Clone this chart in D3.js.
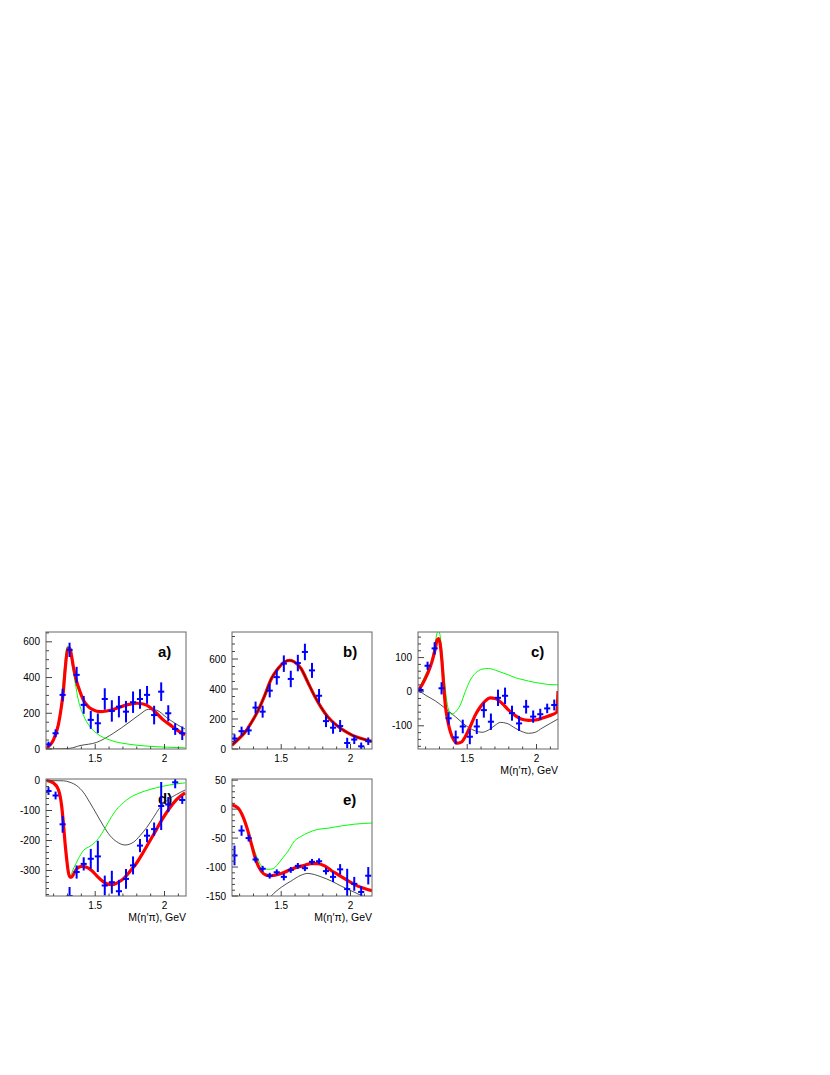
<!DOCTYPE html>
<html><head><meta charset="utf-8">
<script src="https://cdn.jsdelivr.net/npm/d3@7"></script>
<style>body{margin:0;background:#fff} svg{display:block} text{font-family:"Liberation Sans",Arial,Helvetica,sans-serif}</style>
</head><body><svg id="chart" width="830" height="1075"></svg>
<script>
// ---- data ----
const xBins = [1.163,1.214,1.265,1.315,1.366,1.417,1.468,1.519,1.569,1.620,1.671,1.722,1.773,1.823,1.874,1.925,1.976,2.027,2.077,2.128];
const xTicks = [1.5, 2];
const xTickLabels = ["1.5", "2"];
const xTitle = "M(\u03B7\u2032\u03C0), GeV";

const aVal = [26, 88, 303, 555, 415, 247, 163, 144, 280, 213, 237, 209, 262, 280, 303, 190, 321, 200, 112, 88];
const aErr = [15, 22, 35, 40, 45, 50, 50, 55, 60, 60, 60, 60, 60, 55, 50, 52, 52, 45, 33, 38];
const aRed = [[1.150,5],[1.162,13],[1.198,50],[1.234,135],[1.258,247],[1.270,322],[1.282,434],[1.294,527],[1.306,565],[1.318,561],[1.330,518],[1.342,462],[1.366,378],[1.390,322],[1.414,275],[1.450,237],[1.486,219],[1.535,209],[1.583,213],[1.655,228],[1.727,247],[1.799,256],[1.847,252],[1.895,234],[1.943,200],[1.991,163],[2.040,135],[2.088,107],[2.148,79]];
const aGreen = [[1.150,3],[1.198,45],[1.234,150],[1.258,280],[1.270,390],[1.282,490],[1.294,565],[1.302,576],[1.318,545],[1.330,490],[1.354,378],[1.378,275],[1.414,191],[1.462,125],[1.510,88],[1.607,50],[1.751,26],[1.895,15],[2.148,7]];
const aBlack = [[1.150,0],[1.250,1],[1.318,4],[1.390,19],[1.510,37],[1.631,88],[1.751,153],[1.823,194],[1.883,222],[1.943,217],[2.015,176],[2.088,138],[2.148,112]];
const aYTicks = [0, 200, 400, 600];

const bVal = [70, 119, 124, 276, 249, 389, 479, 569, 467, 573, 647, 524, 355, 186, 142, 153, 40, 63, 18, 52];
const bErr = [28, 30, 30, 40, 40, 45, 50, 55, 55, 55, 55, 50, 45, 40, 40, 40, 35, 30, 25, 25];
const bRed = [[1.145,25],[1.188,63],[1.236,108],[1.284,175],[1.332,254],[1.380,355],[1.428,467],[1.476,535],[1.524,580],[1.560,591],[1.596,580],[1.644,535],[1.692,445],[1.740,355],[1.789,276],[1.837,213],[1.885,169],[1.933,135],[1.981,108],[2.029,85],[2.077,70],[2.155,50]];
const bYTicks = [0, 200, 400, 600];

const cVal = [5, 76, 127, 10, -78, -134, -102, -132, -102, -54, -88, -18, -12, -63, -93, -44, -73, -66, -49, -39];
const cErr = [8, 12, 18, 18, 18, 20, 20, 22, 22, 22, 24, 24, 24, 22, 22, 20, 18, 16, 14, 16];
const cRed = [[1.145,3],[1.174,20],[1.210,49],[1.246,88],[1.270,127],[1.282,151],[1.294,156],[1.306,137],[1.318,88],[1.330,20],[1.342,-39],[1.361,-88],[1.378,-117],[1.402,-141],[1.426,-151],[1.457,-148],[1.486,-132],[1.522,-102],[1.559,-68],[1.595,-44],[1.631,-27],[1.667,-18],[1.703,-20],[1.751,-34],[1.799,-54],[1.847,-70],[1.895,-81],[1.943,-84],[1.991,-83],[2.039,-78],[2.087,-71],[2.147,-60],[2.155,2]];
const cGreen = [[1.145,3],[1.198,49],[1.246,98],[1.270,146],[1.282,171],[1.294,180],[1.313,137],[1.330,59],[1.347,-10],[1.366,-54],[1.385,-66],[1.414,-60],[1.450,-39],[1.486,0],[1.522,34],[1.559,54],[1.607,66],[1.655,68],[1.703,63],[1.751,56],[1.799,49],[1.847,41],[1.895,36],[1.943,31],[1.991,27],[2.039,24],[2.087,21],[2.155,20]];
const cBlack = [[1.145,5],[1.198,-10],[1.270,-27],[1.342,-49],[1.414,-73],[1.486,-98],[1.559,-115],[1.607,-119],[1.655,-112],[1.703,-98],[1.739,-90],[1.787,-93],[1.847,-107],[1.895,-117],[1.943,-122],[1.991,-119],[2.039,-107],[2.099,-93],[2.155,-80]];
const cYTicks = [-100, 0, 100];

const dVal = [-35, -50, -146, -385, -305, -278, -261, -253, -350, -339, -369, -328, -283, -217, -184, -162, -85, -80, -6, -65];
const dErr = [13, 13, 28, 30, 22, 22, 33, 52, 33, 38, 38, 33, 30, 22, 22, 22, 80, 25, 20, 13];
const dRed = [[1.150,0],[1.198,-8],[1.234,-30],[1.258,-85],[1.270,-140],[1.282,-206],[1.294,-261],[1.306,-305],[1.318,-322],[1.330,-322],[1.342,-314],[1.366,-295],[1.402,-286],[1.438,-289],[1.474,-300],[1.510,-317],[1.547,-333],[1.583,-344],[1.619,-347],[1.655,-342],[1.703,-328],[1.751,-303],[1.799,-275],[1.847,-239],[1.895,-201],[1.943,-162],[1.991,-124],[2.040,-90],[2.088,-63],[2.148,-41]];
const dGreen = [[1.150,0],[1.222,-13],[1.258,-85],[1.282,-206],[1.306,-305],[1.318,-318],[1.342,-295],[1.378,-261],[1.414,-234],[1.462,-219],[1.510,-201],[1.559,-168],[1.607,-129],[1.655,-96],[1.703,-74],[1.751,-57],[1.823,-41],[1.895,-30],[1.991,-19],[2.088,-11],[2.148,-8]];
const dBlack = [[1.150,0],[1.270,-1],[1.318,-6],[1.366,-17],[1.414,-39],[1.462,-74],[1.510,-112],[1.559,-151],[1.607,-184],[1.655,-204],[1.715,-215],[1.775,-206],[1.823,-184],[1.871,-157],[1.919,-124],[1.967,-90],[2.015,-68],[2.088,-46],[2.148,-32]];
const dYTicks = [-300, -200, -100, 0];

const eVal = [-80, -37, -50, -87, -103, -115, -109, -117, -105, -98, -102, -91, -90, -107, -117, -104, -138, -129, -143, -115];
const eErr = [17, 9, 6, 5, 5, 5, 5, 6, 5, 5, 5, 5, 5, 6, 9, 9, 35, 12, 10, 15];
const eRed = [[1.145,7],[1.188,2],[1.224,-13],[1.260,-38],[1.289,-64],[1.320,-90],[1.356,-107],[1.392,-114],[1.428,-115],[1.476,-113],[1.524,-109],[1.572,-104],[1.620,-100],[1.668,-97],[1.716,-94],[1.764,-94],[1.813,-98],[1.861,-106],[1.909,-113],[1.957,-120],[2.005,-127],[2.053,-133],[2.101,-137],[2.155,-141]];
const eGreen = [[1.145,7],[1.224,-11],[1.260,-35],[1.296,-64],[1.332,-87],[1.368,-101],[1.404,-104],[1.440,-103],[1.476,-95],[1.512,-84],[1.548,-73],[1.596,-55],[1.644,-47],[1.692,-41],[1.764,-35],[1.837,-33],[1.933,-29],[2.029,-26],[2.155,-24]];
const eBlack = [[1.356,-173],[1.428,-150],[1.500,-135],[1.572,-124],[1.644,-114],[1.692,-111],[1.740,-113],[1.789,-117],[1.861,-124],[1.933,-133],[2.005,-141],[2.077,-149],[2.155,-157]];
const eYTicks = [-150, -100, -50, 0, 50];

// ---- layout ----
const xDomain = [1.145, 2.155];
const panels = [
  {key:"a", label:"a)", val:aVal, err:aErr, red:aRed, green:aGreen, black:aBlack, yDom:[0,655], yTicks:aYTicks, yMinor:50, box:[46,632,186,749], lab:[158,657], title:false},
  {key:"b", label:"b)", val:bVal, err:bErr, red:bRed, green:null, black:null, yDom:[0,780], yTicks:bYTicks, yMinor:50, box:[232,632,372,749], lab:[343,657], title:false, blackOnRed:true},
  {key:"c", label:"c)", val:cVal, err:cErr, red:cRed, green:cGreen, black:cBlack, yDom:[-168,175], yTicks:cYTicks, yMinor:20, box:[418,632,558,749], lab:[531,657], title:true},
  {key:"d", label:"d)", val:dVal, err:dErr, red:dRed, green:dGreen, black:dBlack, yDom:[-385,5], yTicks:dYTicks, yMinor:20, box:[46,779,186,896], lab:[158,804], title:true},
  {key:"e", label:"e)", val:eVal, err:eErr, red:eRed, green:eGreen, black:eBlack, yDom:[-150,52], yTicks:eYTicks, yMinor:10, box:[232,779,372,896], lab:[343,805], title:true}
];

const svg = d3.select("#chart");
svg.append("rect").attr("width",830).attr("height",1075).attr("fill","#fff");

panels.forEach(p => {
  const [x0,y0,x1,y1] = p.box;
  const x = d3.scaleLinear().domain(xDomain).range([x0,x1]);
  const y = d3.scaleLinear().domain(p.yDom).range([y1,y0]);
  const g = svg.append("g");
  const clipId = "clip-" + p.key;
  svg.append("clipPath").attr("id", clipId).append("rect")
    .attr("x", x0).attr("y", y0).attr("width", x1-x0).attr("height", y1-y0);

  // panel label
  g.append("text").attr("x", p.lab[0]).attr("y", p.lab[1]).attr("font-size", 15)
    .attr("font-weight", "bold").text(p.label);

  const plot = g.append("g").attr("clip-path", `url(#${clipId})`);
  const line = d3.line().x(d => x(d[0])).y(d => y(d[1])).curve(d3.curveMonotoneX);

  if (p.black) plot.append("path").attr("d", line(p.black)).attr("fill","none").attr("stroke","#222").attr("stroke-width",0.8);
  if (p.green) plot.append("path").attr("d", line(p.green)).attr("fill","none").attr("stroke","#00ff00").attr("stroke-width",1);
  plot.append("path").attr("d", line(p.red)).attr("fill","none").attr("stroke","#ff0000").attr("stroke-width",3.2);
  if (p.blackOnRed) plot.append("path").attr("d", line(p.red)).attr("fill","none").attr("stroke","#400000").attr("stroke-width",1);

  // data points with errors
  const pts = plot.append("g").attr("stroke","#0000ff").attr("stroke-width",2);
  p.val.forEach((v,i) => {
    const xc = xBins[i];
    pts.append("line").attr("x1", x(xc)).attr("x2", x(xc)).attr("y1", y(v - p.err[i])).attr("y2", y(v + p.err[i]));
    pts.append("line").attr("x1", x(xc - 0.022)).attr("x2", x(xc + 0.022)).attr("y1", y(v)).attr("y2", y(v));
  });

  // frame
  g.append("rect").attr("x", x0).attr("y", y0).attr("width", x1-x0).attr("height", y1-y0)
    .attr("fill","none").attr("stroke","#666").attr("stroke-width",1);

  // y ticks
  const ax = g.append("g").attr("stroke","#444").attr("stroke-width",1);
  const yMinorTicks = d3.range(Math.ceil(p.yDom[0]/p.yMinor)*p.yMinor, p.yDom[1]+1e-9, p.yMinor);
  yMinorTicks.forEach(t => {
    const major = p.yTicks.some(m => Math.abs(m - t) < 1e-6);
    ax.append("line").attr("x1", x0).attr("x2", x0 + (major ? 6 : 3)).attr("y1", y(t)).attr("y2", y(t));
  });
  p.yTicks.forEach(t => {
    g.append("text").attr("x", x0 - 6).attr("y", y(t) + 3.6).attr("text-anchor","end")
      .attr("font-size", 10).text(t);
  });
  // x ticks
  const xMinorTicks = d3.range(1.2, xDomain[1], 0.1);
  xMinorTicks.forEach(t => {
    const major = xTicks.some(m => Math.abs(m - t) < 1e-6);
    ax.append("line").attr("x1", x(t)).attr("x2", x(t)).attr("y1", y1).attr("y2", y1 - (major ? 5 : 2.5));
  });
  xTicks.forEach((t,i) => {
    g.append("text").attr("x", x(t)).attr("y", y1 + 13).attr("text-anchor","middle")
      .attr("font-size", 10).text(xTickLabels[i]);
  });
  if (p.title) {
    g.append("text").attr("x", x1).attr("y", y1 + 25).attr("text-anchor","end")
      .attr("font-size", 10.5).text(xTitle);
  }
});
</script>
</body></html>
